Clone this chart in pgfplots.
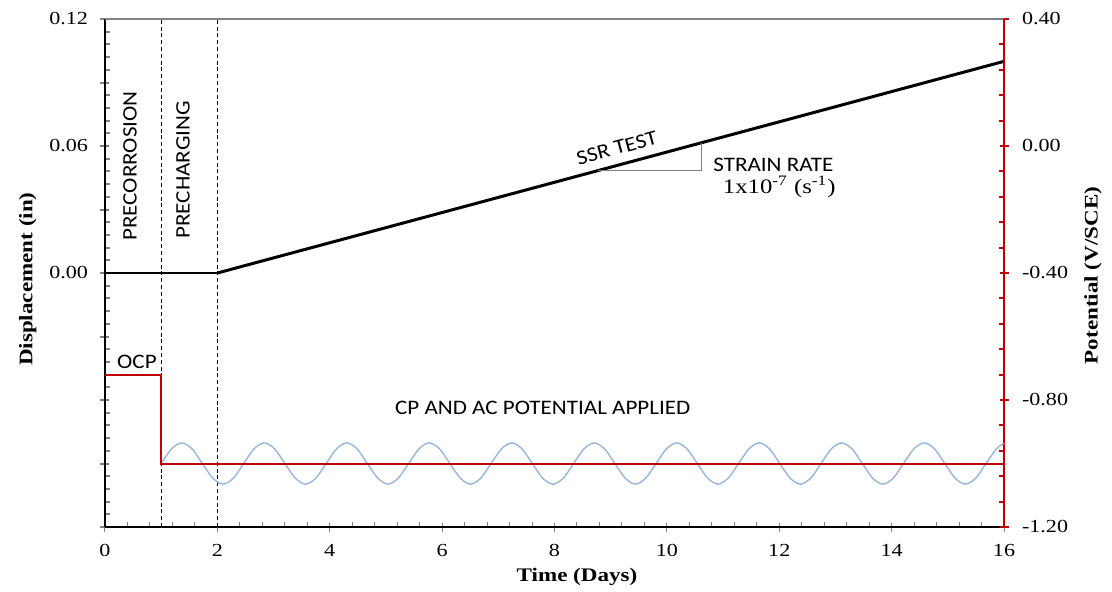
\documentclass[border=0pt]{standalone}
\usepackage{pgfplots}
\pgfplotsset{compat=1.18}
\usepackage{fontspec}
\setmainfont{Liberation Serif}[FakeStretch=1.2]
\newfontfamily\sans{Carlito}[FakeStretch=1.12]
\definecolor{potred}{RGB}{192,0,0}
\definecolor{acblue}{RGB}{150,182,218}

\pgfplotsset{
  common/.style={
    at={(0,0)}, anchor=south west,
    scale only axis, width=449.5pt, height=254pt,
    xmin=0, xmax=16,
    /pgf/number format/assume math mode=true,
    tick align=inside,
    major tick length=4.5pt, minor tick length=2.6pt,
    ticklabel style={font=\fontsize{9.2}{10}\selectfont},
    clip=false,
  },
}

\begin{document}
\begin{tikzpicture}
\path[use as bounding box] (-52.5pt,-32pt) rectangle (503.5pt,263.5pt);

% displacement (left axis)
\begin{axis}[common,
  ymin=-0.12, ymax=0.12,
  axis x line*=bottom, axis y line*=left,
  xtick={0,2,4,6,8,10,12,14,16}, minor x tick num=4,
  ytick={-0.12,-0.09,-0.06,-0.03,0,0.03,0.06,0.09,0.12},
  yticklabels={,,,,0.00,,0.06,,0.12},
  minor y tick num=4,
  x axis line style={line width=0.6pt},
  y axis line style={line width=1.1pt},
  x tick style={line width=0.5pt},
  y tick style={line width=1pt},
  major x tick style={yshift=-2.3pt},
  major y tick style={xshift=-2.3pt},
  xticklabel style={yshift=-5pt},
  yticklabel style={xshift=-5pt},
  xlabel={\textbf{Time (Days)}},
  ylabel={\textbf{Displacement (in)}},
  every axis x label/.style={at={(axis description cs:0.525,-0.098)},anchor=center,font=\fontsize{9.6}{11}\selectfont},
  every axis y label/.style={at={(axis description cs:-0.086,0.488)},anchor=center,rotate=90,font=\fontsize{9.6}{11}\selectfont},
]
\addplot[black, dashed, dash pattern=on 2pt off 1.4pt, line width=0.55pt] coordinates {(1,-0.12) (1,0.12)};
\addplot[black, dashed, dash pattern=on 2pt off 1.4pt, line width=0.55pt] coordinates {(2,-0.12) (2,0.12)};
\addplot[black, line width=0.9pt] coordinates {(0,0) (2,0)};
\addplot[black, line width=1.5pt] coordinates {(2,0) (16,0.1)};
\addplot[gray, line width=0.6pt] coordinates {(8.77,0.0484) (10.62,0.0484) (10.62,0.0616)};

\node[font=\sans\fontsize{10.3}{12}\selectfont, rotate=90] at (axis cs:0.445,0.0506) {PRECORROSION};
\node[font=\sans\fontsize{10.3}{12}\selectfont, rotate=90] at (axis cs:1.39,0.0487) {PRECHARGING};
\node[font=\sans\fontsize{10.3}{12}\selectfont, rotate=15] at (axis cs:9.11,0.0591) {SSR TEST};
\node[font=\sans\fontsize{10.3}{12}\selectfont, anchor=west, inner sep=0pt] at (axis cs:10.82,0.0511) {STRAIN RATE};
\node[font=\fontsize{10.3}{12}\selectfont] at (axis cs:12.0,0.0407) {1x10\textsuperscript{-7} (s\textsuperscript{-1})};
\node[font=\sans\fontsize{10.3}{12}\selectfont, anchor=west, inner sep=0pt] at (axis cs:0.21,-0.0419) {OCP};
\node[font=\sans\fontsize{10.3}{12}\selectfont] at (axis cs:7.79,-0.0636) {CP AND AC POTENTIAL APPLIED};
\end{axis}

% potential (right axis)
\begin{axis}[common,
  ymin=-1.2, ymax=0.4,
  axis x line*=top, axis y line*=right,
  xtick=\empty,
  ytick={-1.2,-0.8,-0.4,0,0.4},
  minor y tick num=4,
  yticklabel style={xshift=5.5pt, /pgf/number format/.cd, fixed, fixed zerofill, precision=2},
  x axis line style={gray, line width=0.6pt},
  y axis line style={potred, line width=1.1pt},
  y tick style={potred, line width=1pt},
  major y tick style={xshift=2.3pt},
  ylabel={\textbf{Potential (V/SCE)}},
  every axis y label/.style={at={(axis description cs:1.099,0.495)},anchor=center,rotate=90,font=\fontsize{9.6}{11}\selectfont},
]
\addplot[acblue, line width=0.7pt, smooth] coordinates {
(1.000,-1.000) (1.184,-0.954) (1.367,-0.935) (1.551,-0.954) (1.734,-1.000) (1.918,-1.046) (2.101,-1.065) (2.285,-1.046)
(2.468,-1.000) (2.652,-0.954) (2.835,-0.935) (3.019,-0.954) (3.202,-1.000) (3.386,-1.046) (3.569,-1.065) (3.753,-1.046)
(3.936,-1.000) (4.120,-0.954) (4.303,-0.935) (4.487,-0.954) (4.670,-1.000) (4.854,-1.046) (5.037,-1.065) (5.221,-1.046)
(5.404,-1.000) (5.588,-0.954) (5.771,-0.935) (5.955,-0.954) (6.138,-1.000) (6.322,-1.046) (6.505,-1.065) (6.689,-1.046)
(6.872,-1.000) (7.056,-0.954) (7.239,-0.935) (7.423,-0.954) (7.606,-1.000) (7.790,-1.046) (7.973,-1.065) (8.157,-1.046)
(8.340,-1.000) (8.524,-0.954) (8.707,-0.935) (8.891,-0.954) (9.074,-1.000) (9.258,-1.046) (9.441,-1.065) (9.625,-1.046)
(9.808,-1.000) (9.992,-0.954) (10.175,-0.935) (10.359,-0.954) (10.542,-1.000) (10.726,-1.046) (10.909,-1.065) (11.093,-1.046)
(11.276,-1.000) (11.460,-0.954) (11.643,-0.935) (11.827,-0.954) (12.010,-1.000) (12.194,-1.046) (12.377,-1.065) (12.561,-1.046)
(12.744,-1.000) (12.928,-0.954) (13.111,-0.935) (13.295,-0.954) (13.478,-1.000) (13.662,-1.046) (13.845,-1.065) (14.029,-1.046)
(14.212,-1.000) (14.396,-0.954) (14.579,-0.935) (14.763,-0.954) (14.946,-1.000) (15.130,-1.046) (15.313,-1.065) (15.497,-1.046)
(15.680,-1.000) (15.864,-0.954) (16.000,-0.936)
};
\addplot[potred, line width=1pt] coordinates {(0,-0.72) (1,-0.72) (1,-1.0) (16,-1.0)};
\end{axis}
\end{tikzpicture}
\end{document}
